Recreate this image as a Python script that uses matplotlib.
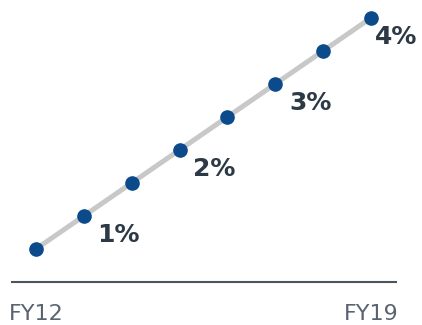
import matplotlib.pyplot as plt

years = ["FY12", "FY13", "FY14", "FY15", "FY16", "FY17", "FY18", "FY19"]
values = [0.5, 1.0, 1.5, 2.0, 2.5, 3.0, 3.5, 4.0]
labels = {1: "1%", 3: "2%", 5: "3%", 7: "4%"}

fig = plt.figure(figsize=(4.22, 3.25), dpi=100)
ax = fig.add_axes([12 / 422, 43 / 325, 384 / 422, 282 / 325])

x = list(range(len(years)))
ax.plot(x, values, color="#c8c8c8", linewidth=3.6, zorder=1)
ax.plot(x, values, "o", color="#0b4a8b", markersize=9.5, zorder=2)

for i, txt in labels.items():
    dx = 18 if i == 7 else 25  # last label pulled in to fit
    ax.annotate(txt, (x[i], values[i]), xytext=(dx, -14), textcoords="offset points",
                ha="center", va="center", fontsize=18, fontweight="bold", color="#2d3a46")

ax.set_xlim(-0.5, 7.52)
ax.set_ylim(0, 4.27)
ax.set_xticks([0, 7])
ax.set_xticklabels([years[0], years[-1]], fontsize=16, color="#5a6470")
ax.tick_params(axis="x", length=0, pad=16)
ax.set_yticks([])
for s in ["top", "right", "left"]:
    ax.spines[s].set_visible(False)
ax.spines["bottom"].set_color("#4a5560")
ax.spines["bottom"].set_linewidth(1.5)

fig.savefig("out.png", dpi=100)
